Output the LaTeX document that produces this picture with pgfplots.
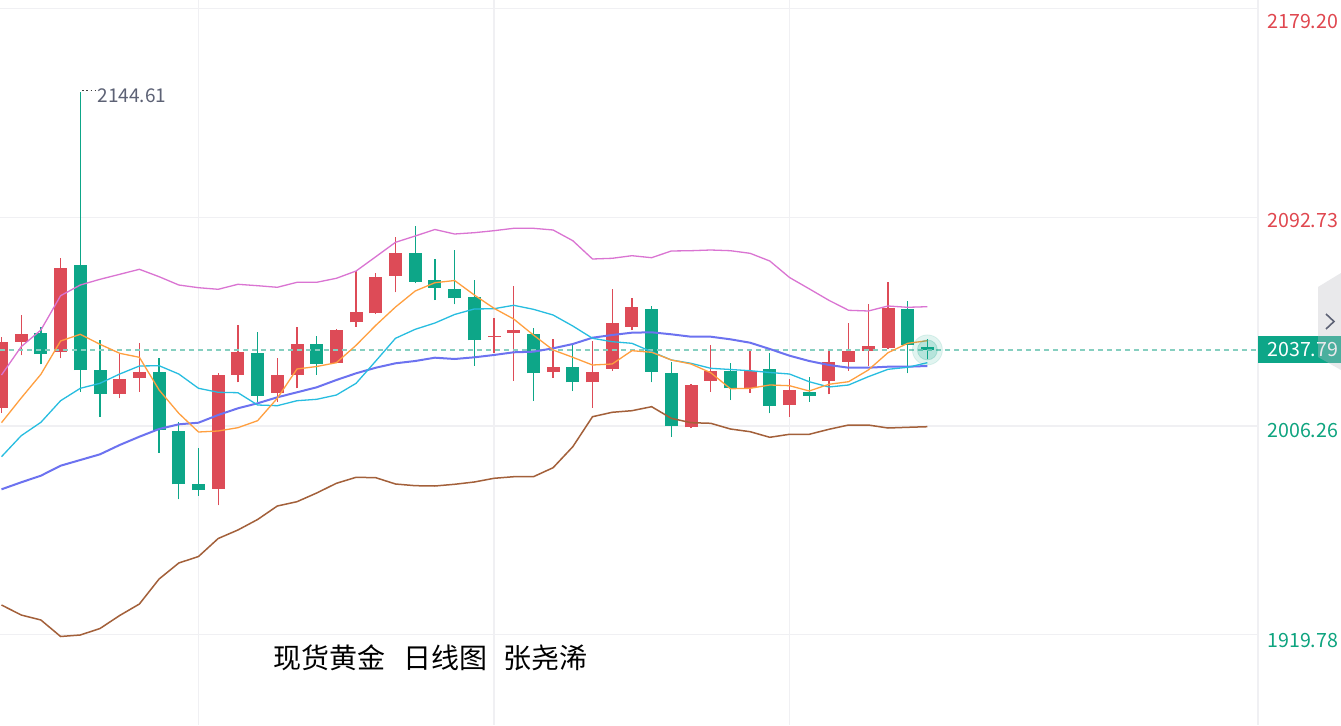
\documentclass[border=0pt]{standalone}
\usepackage{pgfplots}
\pgfplotsset{compat=1.18}
\usepackage{pgfplotstable}
\usepackage{fontspec}
\newfontfamily\cjk{Noto Sans CJK SC}

\definecolor{cRed}{HTML}{DD4B57}
\definecolor{cGreen}{HTML}{0DA688}
\definecolor{cOrange}{HTML}{FF9F3F}
\definecolor{cCyan}{HTML}{27BDE0}
\definecolor{cBlue}{HTML}{6C72F0}
\definecolor{cPink}{HTML}{DA74D2}
\definecolor{cBrown}{HTML}{A3603A}
\definecolor{gridc}{HTML}{F0F0F3}
\definecolor{lblRed}{HTML}{E0474F}
\definecolor{lblGreen}{HTML}{0EA47F}
\definecolor{dashc}{HTML}{86CFC0}
\definecolor{annot}{HTML}{5D6275}
\definecolor{btn}{HTML}{C0C0C8}

% red candles (close > open)
\pgfplotstableread{
i open high low close
0 2013.59 2043.26 2011.77 2041.19
1 2041.19 2052.25 2035.55 2044.25
3 2036.80 2075.99 2034.31 2071.60
6 2019.52 2036.38 2017.74 2025.61
7 2026.27 2040.52 2020.47 2028.51
11 1980.28 2028.09 1973.40 2027.51
12 2027.51 2048.11 2024.37 2036.80
14 2020.06 2034.31 2016.33 2027.39
15 2027.51 2047.40 2021.88 2040.36
17 2032.49 2046.45 2032.16 2046.03
18 2049.23 2070.60 2047.40 2053.49
19 2052.95 2069.78 2052.66 2067.87
20 2068.53 2084.69 2061.65 2077.81
25 2043.13 2051.13 2036.63 2043.55
26 2044.92 2064.26 2025.03 2046.03
28 2028.63 2042.31 2026.27 2030.58
30 2024.37 2041.60 2013.84 2028.63
31 2029.88 2062.90 2029.17 2049.06
32 2047.28 2059.17 2046.03 2055.44
35 2005.72 2023.66 2005.43 2023.12
36 2024.90 2039.82 2020.47 2029.17
38 2021.88 2038.04 2020.06 2028.92
40 2014.96 2025.61 2010.11 2021.18
42 2024.90 2037.75 2019.39 2032.90
43 2032.90 2049.06 2029.17 2037.33
44 2037.46 2056.68 2031.12 2039.41
45 2038.70 2066.05 2038.37 2055.27
}\redc

% green candles (close < open)
\pgfplotstableread{
i open high low close
2 2044.67 2047.15 2031.82 2036.09
4 2072.84 2144.61 2020.47 2029.46
5 2029.50 2041.89 2010.11 2019.52
8 2028.63 2034.31 1995.20 2004.60
9 2004.31 2008.04 1975.89 1982.11
10 1982.11 1997.02 1977.26 1979.74
13 2036.63 2045.33 2016.08 2018.81
16 2040.36 2043.55 2027.51 2031.95
21 2077.81 2089.12 2065.38 2066.05
22 2066.75 2075.33 2058.46 2063.56
23 2062.90 2079.18 2056.68 2059.17
24 2059.71 2066.63 2031.24 2041.77
27 2044.25 2046.74 2016.74 2028.09
29 2030.58 2039.82 2020.76 2024.37
33 2054.74 2055.98 2024.37 2028.76
34 2028.09 2032.90 2001.83 2006.26
37 2029.17 2032.24 2017.03 2021.88
39 2029.75 2036.63 2011.52 2014.55
41 2020.47 2026.69 2016.33 2018.81
46 2054.74 2058.05 2028.09 2039.82
47 2038.87 2042.18 2033.90 2037.79
}\greenc

% moving averages and Bollinger bands
\pgfplotstableread{
i ma5 ma10 ma20 up dn
0 2007.63 1993.54 1980.03 2027.39 1932.10
1 2017.86 2002.24 1982.93 2039.12 1927.95
2 2027.68 2007.79 1985.67 2046.03 1925.88
3 2041.48 2016.74 1989.81 2060.25 1919.05
4 2044.25 2021.88 1992.17 2064.68 1919.67
5 2040.11 2023.95 1994.53 2067.04 1922.36
6 2036.38 2027.80 1998.39 2069.11 1927.75
7 2034.72 2031.12 2001.83 2071.18 1932.51
8 2021.18 2031.24 2005.02 2068.12 1942.87
9 2011.52 2027.80 2006.96 2064.68 1949.50
10 2003.77 2021.88 2007.63 2063.56 1952.19
11 2004.19 2020.22 2010.82 2062.90 1959.65
12 2005.56 2020.06 2013.59 2064.97 1963.17
13 2008.46 2014.96 2015.67 2064.39 1967.52
14 2017.74 2014.67 2018.15 2063.73 1973.11
15 2029.88 2016.74 2020.22 2065.80 1974.90
16 2030.91 2017.32 2022.29 2065.80 1978.50
17 2032.49 2019.10 2025.32 2067.46 1982.52
18 2039.70 2023.95 2028.09 2070.48 1985.01
19 2047.98 2033.19 2030.41 2076.40 1984.84
20 2055.56 2042.60 2032.24 2082.37 1982.23
21 2062.19 2046.32 2033.19 2084.98 1981.53
22 2065.63 2048.93 2034.56 2087.67 1981.40
23 2066.54 2052.46 2034.02 2085.81 1982.11
24 2060.54 2054.74 2034.72 2086.35 1983.06
25 2055.03 2054.86 2035.68 2087.18 1984.59
26 2050.59 2056.27 2036.80 2088.17 1985.25
27 2043.96 2054.61 2037.04 2088.17 1985.25
28 2037.75 2052.25 2038.45 2087.47 1988.98
29 2034.72 2047.69 2040.23 2083.03 1997.68
30 2031.53 2042.60 2042.84 2075.45 2010.11
31 2031.95 2041.19 2043.96 2075.74 2011.94
32 2037.46 2040.52 2044.92 2076.82 2012.60
33 2036.80 2037.04 2045.08 2075.99 2014.26
34 2033.61 2033.61 2044.25 2078.77 2009.45
35 2031.95 2032.24 2043.26 2078.89 2007.63
36 2028.34 2030.17 2043.26 2079.18 2007.38
37 2021.71 2029.67 2042.18 2078.89 2005.02
38 2021.88 2029.17 2040.77 2077.81 2003.90
39 2023.25 2028.43 2038.16 2074.62 2001.58
40 2022.96 2027.80 2035.39 2067.79 2002.82
41 2020.76 2024.61 2033.19 2063.10 2002.82
42 2023.54 2022.42 2031.53 2058.34 2004.89
43 2024.61 2023.25 2030.41 2054.20 2006.67
44 2029.46 2026.69 2030.41 2053.91 2006.67
45 2036.63 2029.75 2030.83 2055.98 2005.43
46 2040.52 2030.58 2030.83 2055.44 2005.72
47 2041.60 2032.49 2031.12 2055.69 2005.97
}\mas

\pgfplotsset{
  candle/.style 2 args={only marks, mark=text, text mark={}, color=#1,
    error bars/.cd, y dir=plus, y explicit, error mark=none,
    error bar style={line width=#2, color=#1, solid}},
}

\begin{document}
\begin{tikzpicture}[x=1pt,y=1pt]
\useasboundingbox (0,0) rectangle (670.5,362.5);
\fill[white] (0,0) rectangle (670.5,362.5);
\begin{axis}[
  at={(0,0)}, anchor=south west,
  scale only axis, width=629pt, height=362.5pt,
  xmin=-0.0761, xmax=63.782,
  ymin=1882.38, ymax=2182.76,
  axis line style={draw=none},
  major tick length=0pt,
  xtick={10,25,40},
  ytick={1919.78,2006.26,2092.73,2179.20},
  xticklabels={}, yticklabels={},
  grid=major,
  grid style={color=gridc, line width=0.6pt},
]
% wicks
\addplot[candle={cRed}{0.65pt}]
  table[x=i, y=low, y error expr=\thisrow{high}-\thisrow{low}] {\redc};
\addplot[candle={cGreen}{0.65pt}]
  table[x=i, y=low, y error expr=\thisrow{high}-\thisrow{low}] {\greenc};
% bodies
\addplot[candle={cRed}{6.5pt}]
  table[x=i, y expr={min(\thisrow{open},\thisrow{close})}, y error expr={max(abs(\thisrow{close}-\thisrow{open}),0.5)}] {\redc};
\addplot[candle={cGreen}{6.5pt}]
  table[x=i, y expr={min(\thisrow{open},\thisrow{close})}, y error expr={max(abs(\thisrow{close}-\thisrow{open}),0.5)}] {\greenc};
% current price line
\addplot[dashc, line width=0.6pt, dash pattern=on 2.5pt off 2pt, mark=none] coordinates {(-0.08,2037.79) (63.79,2037.79)};
% indicator lines
\addplot[cBrown, line width=0.75pt, mark=none] table[x=i, y=dn] {\mas};
\addplot[cPink, line width=0.65pt, mark=none] table[x=i, y=up] {\mas};
\addplot[cBlue, line width=1pt, mark=none] table[x=i, y=ma20] {\mas};
\addplot[cCyan, line width=0.65pt, mark=none] table[x=i, y=ma10] {\mas};
\addplot[cOrange, line width=0.65pt, mark=none] table[x=i, y=ma5] {\mas};
% glow on last price
\addplot[only marks, mark=*, mark size=7.5pt, color=cGreen, opacity=0.12] coordinates {(47,2037.79)};
\addplot[only marks, mark=*, mark size=5pt, color=cGreen, opacity=0.2] coordinates {(47,2037.79)};
% max annotation
\draw[black!75, line width=0.8pt, dash pattern=on 0.7pt off 1.4pt] ([xshift=0.9pt,yshift=0.8pt]axis cs:4,2144.61) -- ([xshift=7.4pt,yshift=0.8pt]axis cs:4,2144.61);
\node[anchor=north west, inner sep=0pt, text=annot, font=\cjk\fontsize{9.5}{10}\selectfont] at ([xshift=8.5pt,yshift=1.8pt]axis cs:4,2144.61) {2144.61};
\end{axis}
% right border
\draw[gridc, line width=0.6pt] (629,0) -- (629,362.5);
% price labels
\node[anchor=west, inner sep=0pt, text=lblRed, font=\cjk\fontsize{9.8}{10}\selectfont] at (633.5,351.5) {2179.20};
\node[anchor=west, inner sep=0pt, text=lblRed, font=\cjk\fontsize{9.8}{10}\selectfont] at (633.5,252.2) {2092.73};
\node[anchor=west, inner sep=0pt, text=lblGreen, font=\cjk\fontsize{9.8}{10}\selectfont] at (633.5,147.2) {2006.26};
\node[anchor=west, inner sep=0pt, text=lblGreen, font=\cjk\fontsize{9.8}{10}\selectfont] at (633.5,42.2) {1919.78};
% current price box
\fill[cGreen] (629,181) rectangle (670.5,194.5);
\node[anchor=west, inner sep=0pt, text=white, font=\cjk\fontsize{9.8}{10}\selectfont] at (633.5,187.6) {2037.79};
% side button
\fill[btn, fill opacity=0.35] (670.5,226) -- (659,219) -- (659,184) -- (670.5,177.5) -- cycle;
\draw[color=annot, line width=0.8pt] (663,205.5) -- (667,201.75) -- (663,198);
% title
\node[anchor=west, inner sep=0pt, font=\cjk\fontsize{14}{16}\selectfont] at (136.5,33.5) {现货黄金};
\node[anchor=west, inner sep=0pt, font=\cjk\fontsize{14}{16}\selectfont] at (201.5,33.5) {日线图};
\node[anchor=west, inner sep=0pt, font=\cjk\fontsize{14}{16}\selectfont] at (251.5,33.5) {张尧浠};
\end{tikzpicture}
\end{document}
